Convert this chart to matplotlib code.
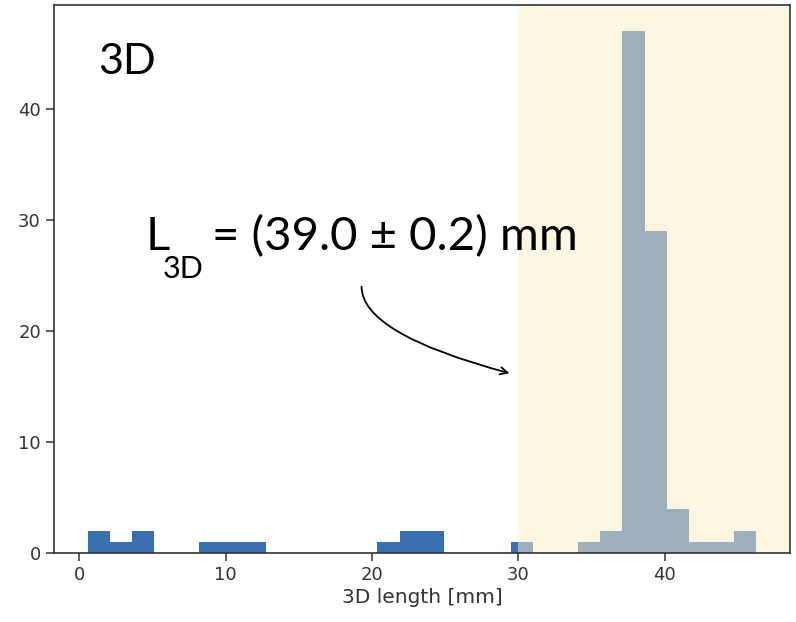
import numpy as np
import matplotlib
matplotlib.use("Agg")
import matplotlib.pyplot as plt
from matplotlib.patches import Rectangle

# histogram data (30 bins)
first_edge = 0.57
bin_width = 1.523
counts = [2, 1, 2, 0, 0, 1, 1, 1, 0, 0,
          0, 0, 0, 1, 2, 2, 0, 0, 0, 1,
          0, 0, 1, 2, 47, 29, 4, 1, 1, 2]
edges = first_edge + bin_width * np.arange(len(counts) + 1)

span_start = 30
xticks = [0, 10, 20, 30, 40]
yticks = [0, 10, 20, 30, 40]

blue = "#3a70ad"
grey = "#9db0bc"
cream = "#fdf6e3"
text_col = "#333333"

fig = plt.figure(figsize=(7.96, 6.22), dpi=100)
ax = fig.add_axes([0.068, 0.111, 0.924, 0.881])

# full histogram in blue
ax.hist(edges[:-1], bins=edges, weights=counts, color=blue, zorder=1)
ax.set_xlim(ax.get_xlim())
ax.set_ylim(ax.get_ylim())
xmax = ax.get_xlim()[1]
ymin, ymax = ax.get_ylim()

# highlighted region on top, bars seen through it turn grey
ax.axvspan(span_start, xmax, color=cream, zorder=2, lw=0)
_, _, patches = ax.hist(edges[:-1], bins=edges, weights=counts, color=grey, zorder=3)
clip = Rectangle((span_start, ymin), xmax - span_start, ymax - ymin,
                 transform=ax.transData, visible=False)
ax.add_patch(clip)
for p in patches:
    p.set_clip_path(clip)

ax.set_xticks(xticks)
ax.set_yticks(yticks)
ax.tick_params(labelsize=13, colors=text_col, length=6, width=1.1)
for s in ax.spines.values():
    s.set_color("#333333")
    s.set_linewidth(1.2)
    s.set_zorder(5)
ax.set_xlabel("3D length [mm]", fontsize=14.5, color=text_col, labelpad=3)

# annotation texts (subscript drawn separately so it sits lower)
ax.text(0.06, 0.874, "3D", transform=ax.transAxes, fontsize=31,
        family="Lato", color="black", zorder=6)
ax.text(0.124, 0.553, "L", transform=ax.transAxes, fontsize=34,
        family="Lato", color="black", zorder=6)
ax.text(0.148, 0.502, "3D", transform=ax.transAxes, fontsize=22,
        family="Lato", color="black", zorder=6)
ax.text(0.214, 0.553, "= (39.0 ± 0.2) mm", transform=ax.transAxes, fontsize=34,
        family="Lato", color="black", zorder=6)
ax.annotate("", xy=(0.619, 0.328), xytext=(0.418, 0.486),
            xycoords="axes fraction", textcoords="axes fraction",
            arrowprops=dict(arrowstyle="->", color="black", lw=1.3,
                            mutation_scale=13,
                            connectionstyle="angle3,angleA=-90,angleB=-15",
                            shrinkA=0, shrinkB=0),
            zorder=6)

fig.savefig("out.png", dpi=100)
